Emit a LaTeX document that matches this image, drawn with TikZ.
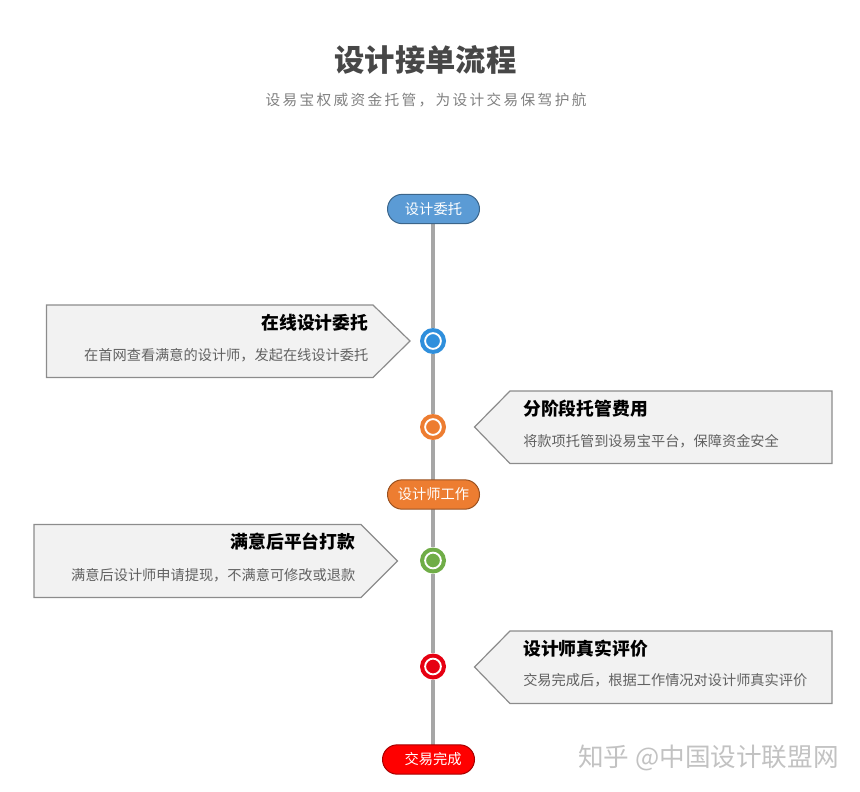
\documentclass[tikz,border=0pt]{standalone}
\usepackage{fontspec}
\setmainfont{Noto Sans CJK SC}
\newfontfamily\cjk{Noto Sans CJK SC}
\newfontfamily\cjkspaced[LetterSpace=16]{Noto Sans CJK SC}
\usetikzlibrary{shapes.misc,backgrounds}
\definecolor{pblue}{HTML}{5B9BD5}
\definecolor{porange}{HTML}{ED7D31}
\definecolor{dotblue}{HTML}{2F8FDC}
\definecolor{dotgreen}{HTML}{70AD47}
\definecolor{dotred}{HTML}{E60012}
\definecolor{cardfill}{HTML}{F2F2F2}
\definecolor{cardline}{HTML}{8C8C8C}
\definecolor{spinegray}{HTML}{A6A6A6}
\tikzset{
  px/.style={x=0.75pt,y=-0.75pt},
  pill/.style={rounded rectangle,minimum width=69pt,minimum height=22pt,inner sep=0pt,draw=#1!65!black,fill=#1,line width=0.75pt,text=white,font=\cjk\fontsize{10.7}{12}\selectfont},
  cardbody/.style={draw=cardline,fill=cardfill,line width=0.9pt,line join=miter},
  cardtitle/.style={font=\cjk\bfseries\fontsize{13.35}{16}\selectfont,text=black,inner sep=0pt},
  cardtext/.style={font=\cjk\fontsize{10.65}{13}\selectfont,text=black!62,inner sep=0pt},
  dotring/.style={circle,minimum size=19.5pt,inner sep=0pt,fill=#1,path picture={\draw[white,line width=1.4pt] (path picture bounding box.center) circle (5.9pt);}},
  spine/.style={draw=spinegray,line width=2.6pt}
}
\begin{document}
\begin{tikzpicture}[px]
\useasboundingbox (0,0) rectangle (860,792);
\node[font=\cjk\bfseries\fontsize{22.75}{26}\selectfont,text=black!72,inner sep=0pt] (title) at (425.5,60) {设计接单流程};
\node[font=\cjkspaced\fontsize{11}{14}\selectfont,text=black!50,inner sep=0pt] (sub) at (426,100) {设易宝权威资金托管，为设计交易保驾护航};
% pills
\node[pill=pblue] (p1) at (433.5,209) {\raisebox{-0.4pt}{设计委托}};
\node[pill=porange] (p2) at (433.5,494.5) {\raisebox{-0.4pt}{设计师工作}};
\node[pill=red] (p3) at (428.5,759.5) {\hspace*{7pt}\raisebox{-0.4pt}{交易完成}};
% dots
\node[dotring=dotblue] (d1) at (433,341) {};
\node[dotring=porange] (d2) at (433,427) {};
\node[dotring=dotgreen] (d3) at (433,560.5) {};
\node[dotring=dotred] (d4) at (433,666.5) {};
% cards
\draw[cardbody] (46.5,305) -- (373,305) -- (410,341) -- (373,377.5) -- (46.5,377.5) -- cycle;
\node[cardtitle,anchor=east] (t1) at (368.5,323) {在线设计委托};
\node[cardtext,anchor=east] (s1) at (368.5,355) {在首网查看满意的设计师，发起在线设计委托};
\draw[cardbody] (832,391) -- (510,391) -- (474.5,427) -- (510,463.5) -- (832,463.5) -- cycle;
\node[cardtitle,anchor=west] (t2) at (523,409) {分阶段托管费用};
\node[cardtext,anchor=west] (s2) at (523,441) {将款项托管到设易宝平台，保障资金安全};
\draw[cardbody] (34,524.5) -- (361,524.5) -- (397.5,561) -- (361,597.5) -- (34,597.5) -- cycle;
\node[cardtitle,anchor=east] (t3) at (355.5,542) {满意后平台打款};
\node[cardtext,anchor=east] (s3) at (355.5,575) {满意后设计师申请提现，不满意可修改或退款};
\draw[cardbody] (832,631) -- (510,631) -- (474.5,667) -- (510,703.5) -- (832,703.5) -- cycle;
\node[cardtitle,anchor=west] (t4) at (523,649) {设计师真实评价};
\node[cardtext,anchor=west] (s4) at (523,680.5) {交易完成后，根据工作情况对设计师真实评价};
% spine, behind pills and dots
\begin{scope}[on background layer]
\draw[spine] (p1 -| d1) -- (d1);
\draw[spine] (d1) -- (d2);
\draw[spine] (d2) -- (p2 -| d2);
\draw[spine] (p2 -| d3) -- (d3);
\draw[spine] (d3) -- (d4);
\draw[spine] (d4) -- (p3 -| d4);
\end{scope}
% watermark
\node[font=\cjk\fontsize{19.2}{24}\selectfont,text=black!24,inner sep=0pt,anchor=west] (wm) at (578,757.5) {知乎 @中国设计联盟网};
\end{tikzpicture}
\end{document}
